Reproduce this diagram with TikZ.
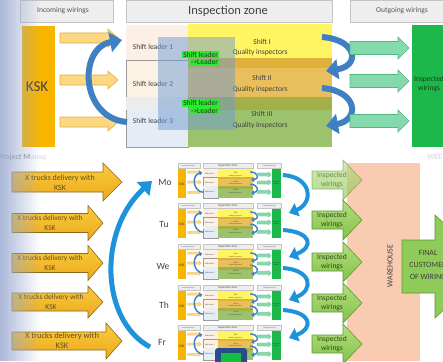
\documentclass[tikz,border=0pt]{standalone}
\usepackage{fontspec}
\setmainfont{Carlito}
\usetikzlibrary{arrows.meta}
\definecolor{hdrfill}{HTML}{EEEEEE}
\definecolor{hdrline}{HTML}{C4C4C4}
\definecolor{hdrtext}{HTML}{5C5252}
\definecolor{txtgray}{HTML}{404040}
\definecolor{ksk}{HTML}{F7B500}
\definecolor{yfill}{HTML}{FDD882}
\definecolor{yline}{HTML}{E0B040}
\definecolor{sla}{HTML}{FBEFE6}
\definecolor{slb}{HTML}{FCF2E4}
\definecolor{slc}{HTML}{E6ECF5}
\definecolor{slctop}{HTML}{ECECEE}
\definecolor{slline}{HTML}{9A9A9A}
\definecolor{banda}{HTML}{FFF462}
\definecolor{bandba}{HTML}{DFB13A}
\definecolor{bandbb}{HTML}{E9BF5C}
\definecolor{bandca}{HTML}{A5AF48}
\definecolor{bandcb}{HTML}{9DC26E}
\definecolor{blueA}{HTML}{3F7FC4}
\definecolor{gfill}{HTML}{84DAAC}
\definecolor{gline}{HTML}{52B882}
\definecolor{gbox}{HTML}{1DB84C}
\definecolor{gtext}{HTML}{1E3A1E}
\definecolor{ovblue}{HTML}{6E9BD3}
\definecolor{glabel}{HTML}{2EEA2E}
\definecolor{bluebright}{HTML}{1C93DB}
\definecolor{ytop}{HTML}{FCCB3E}
\definecolor{ybot}{HTML}{EBA91C}
\definecolor{yedge}{HTML}{8A6A1A}
\definecolor{ytext}{HTML}{5F4E22}
\definecolor{lgtop}{HTML}{B5DE7E}
\definecolor{lgbot}{HTML}{82C24A}
\definecolor{lgedge}{HTML}{5C9A30}
\definecolor{lgtext}{HTML}{2E4A1A}
\definecolor{warehouse}{HTML}{F9CCB2}
\definecolor{finalg}{HTML}{8FCB58}
\definecolor{navy}{HTML}{2A4A8A}
\definecolor{thumbgreen}{HTML}{10C040}
\definecolor{gradc}{HTML}{98A8D0}

\newcommand\lsc{1}
\newcommand\barrow[7]{\path[#1] (#2,{#5-#6}) -- (#3,{#5-#6}) -- (#3,{#5-#7}) -- (#4,#5) -- (#3,{#5+#7}) -- (#3,{#5+#6}) -- (#2,{#5+#6}) -- cycle;}

\tikzset{
  hdrbox/.style={fill=hdrfill, draw=hdrline, line width=\lsc*0.5pt},
  txt/.style={text=txtgray, inner sep=0pt, font=\fontsize{7.5}{9}\selectfont, align=center},
  yarrow/.style={fill=yfill, draw=yline, line width=\lsc*0.6pt},
  garrow/.style={fill=gfill, draw=gline, line width=\lsc*0.6pt},
  slbox/.style={draw=slline, line width=\lsc*0.5pt},
  curvearrow/.style={draw=blueA, line width=\lsc*6pt, -{Triangle[length=0pt 2, width=0pt 3.3]}},
  bigarrow/.style={draw=bluebright, line width=5pt, -{Triangle[length=0pt 2.4, width=0pt 3.6]}},
  sarrow/.style={draw=bluebright, line width=4pt, -{Triangle[length=0pt 2.2, width=0pt 3.4]}},
  truckarrow/.style={top color=ytop, bottom color=ybot, draw=yedge, line width=0.6pt},
  trucktxt/.style={text=ytext, inner sep=0pt, font=\fontsize{8}{10}\selectfont, align=center},
  inspArrow/.style={top color=lgtop, bottom color=lgbot, draw=lgedge, line width=0.6pt},
  insptxt/.style={text=lgtext, inner sep=0pt, font=\fontsize{7.5}{9.5}\selectfont, align=center},
  daytxt/.style={text=txtgray, inner sep=0pt, font=\fontsize{9.5}{11}\selectfont},
  greenlbl/.style={fill=glabel, text=gtext, inner sep=0.8pt, font=\fontsize{7.5}{8.5}\selectfont}
}

\newcommand\minislide[1]{%
  \path[hdrbox] (20,0) rectangle (113,22);
  \path[hdrbox] (126,0) rectangle (332,22);
  \path[hdrbox] (350,0) rectangle (450,22);
  \node[txt, text=hdrtext] (#1inc) at (63,11) {Incoming wirings};
  \node[txt, font=\fontsize{12.5}{14}\selectfont] (#1zone) at (228,11) {Inspection zone};
  \node[txt, text=hdrtext] (#1out) at (402,11) {Outgoing wirings};
  \fill[ksk] (22,26) rectangle (55,147);
  \node[txt, font=\fontsize{15}{17}\selectfont] (#1ksk) at (37,87) {KSK};
  \barrow{yarrow}{60}{108}{118}{38}{5}{9}
  \barrow{yarrow}{60}{108}{118}{80}{5}{9}
  \barrow{yarrow}{60}{108}{118}{122}{5}{9}
  \fill[sla] (126,25) rectangle (188,60);
  \path[slbox, fill=slb] (126,60) rectangle (188,97);
  \path[slbox, fill=slc] (126,97) rectangle (188,147);
  \fill[slctop] (126.4,97.4) rectangle (188,110);
  \fill[banda] (188,24) rectangle (332,58);
  \fill[bandba] (188,58) rectangle (332,68);
  \fill[bandbb] (188,68) rectangle (332,97);
  \fill[bandca] (188,97) rectangle (332,110);
  \fill[bandcb] (188,110) rectangle (332,147);
  \node[txt] (#1sl1) at (153,47) {Shift leader 1};
  \node[txt] (#1sl2) at (153,84) {Shift leader 2};
  \node[txt] (#1sl3) at (153,121) {Shift leader 3};
  \node[txt] (#1s1) at (262,42) {Shift I};
  \node[txt] (#1q1) at (260,52.5) {Quality inspectors};
  \node[txt] (#1s2) at (262,78) {Shift II};
  \node[txt] (#1q2) at (260,89) {Quality inspectors};
  \node[txt] (#1s3) at (262,114) {Shift III};
  \node[txt] (#1q3) at (260,125) {Quality inspectors};
  \draw[curvearrow] (127,122) .. controls (80,118) and (78,48) .. (122,40);
  \draw[curvearrow] (322,37) .. controls (358,40) and (360,66) .. (326,71);
  \draw[curvearrow] (322,88) .. controls (358,91) and (360,120) .. (326,126);
  \barrow{garrow}{350}{398}{409}{48}{6.5}{11}
  \barrow{garrow}{350}{398}{409}{81}{6.5}{11}
  \barrow{garrow}{350}{398}{409}{121}{6.5}{11}
  \fill[gbox] (412,25) rectangle (450,147);
  \node[txt, anchor=west, text=gtext] (#1insp) at (414,84) {Inspected\\wirings};
}

\begin{document}
\begin{tikzpicture}[x=1pt,y=-1pt]
\useasboundingbox (0,0) rectangle (443,361);
\clip (0,0) rectangle (443,361);
\fill[white] (0,0) rectangle (443,361);

% ---------- top slide ----------
\minislide{t}
\fill[ovblue, fill opacity=0.5] (158,37) rectangle (235,130);
\node[greenlbl, anchor=south east] (g1a) at (219,58.5) {Shift leader};
\node[greenlbl, anchor=north east] (g1b) at (219,58.5) {->Leader};
\node[greenlbl, anchor=south east] (g2a) at (219,107) {Shift leader};
\node[greenlbl, anchor=north east] (g2b) at (219,107) {->Leader};

% ---------- bottom ----------
\node[anchor=west, inner sep=0pt, font=\bfseries\fontsize{8}{9}\selectfont] (pm) at (-2,157) {\textcolor{gray!70}{Project M}\textcolor{gray!22}{anag}};
\node[anchor=west, inner sep=0pt, font=\bfseries\fontsize{8}{9}\selectfont, text=gray!25] (wee) at (427,157) {WEE};

% truck arrows
\barrow{truckarrow}{12}{103}{122}{182}{10}{19}
\barrow{truckarrow}{12}{88}{103}{223}{9.5}{17.5}
\barrow{truckarrow}{12}{88}{103}{263}{9.5}{17.5}
\barrow{truckarrow}{12}{88}{103}{302}{9}{16}
\barrow{truckarrow}{12}{106}{122}{341}{9}{18}
\node[trucktxt] (t1) at (60,182.5) {X trucks delivery with\\KSK};
\node[trucktxt, font=\fontsize{7.5}{9.5}\selectfont] (t2) at (50,223) {X trucks delivery with\\KSK};
\node[trucktxt, font=\fontsize{7.5}{9.5}\selectfont] (t3) at (50,263) {X trucks delivery with\\KSK};
\node[trucktxt, font=\fontsize{7.5}{9.5}\selectfont] (t4) at (51,302) {X trucks delivery with\\KSK};
\node[trucktxt, font=\fontsize{8.5}{10}\selectfont] (t5) at (62,341) {X trucks delivery with\\KSK};

% days
\node[daytxt] (mo) at (165,182) {Mo};
\node[daytxt] (tu) at (164,224) {Tu};
\node[daytxt] (we) at (163,266) {We};
\node[daytxt] (th) at (164,305) {Th};
\node[daytxt] (fr) at (162,342) {Fr};

% big arrow
\draw[bigarrow] (150,347) .. controls (100,320) and (98,230) .. (152,181);

% thumbnails
\foreach \ty/\nm in {163/a,203/b,244/c,285/d,325/e}{
  \begin{scope}[shift={(173,\ty)}, scale=0.24, transform shape]
    \renewcommand\lsc{0.24}
    \minislide{\nm}
  \end{scope}
}

% S arrows between thumbnails
\draw[sarrow] (283,175) .. controls (312,177) and (314,203) .. (289,213);
\draw[sarrow] (283,230) .. controls (312,232) and (314,247) .. (289,257);
\draw[sarrow] (283,268) .. controls (312,270) and (314,290) .. (289,300);
\draw[sarrow] (283,310) .. controls (312,312) and (314,328) .. (289,338);

% warehouse
\fill[warehouse] (347,163) rectangle (420,361);
\node[rotate=90, inner sep=0pt, text=txtgray, font=\fontsize{8}{9}\selectfont] (wh) at (390,266) {WAREHOUSE};

% inspected arrows
\begin{scope}[opacity=0.6]
\barrow{inspArrow}{312}{343}{362}{180}{9}{20}
\node[insptxt] (i1) at (332,180) {Inspected\\wirings};
\end{scope}
\barrow{inspArrow}{312}{343}{362}{220}{9}{20}
\barrow{inspArrow}{312}{343}{362}{262}{9}{20}
\barrow{inspArrow}{312}{343}{362}{303}{9}{20}
\barrow{inspArrow}{312}{343}{362}{344}{9}{20}
\node[insptxt] (i2) at (332,220) {Inspected\\wirings};
\node[insptxt] (i3) at (332,262) {Inspected\\wirings};
\node[insptxt] (i4) at (332,303) {Inspected\\wirings};
\node[insptxt] (i5) at (332,344) {Inspected\\wirings};

% final customer arrow
\path[fill=finalg, draw=lgedge, line width=0.6pt] (402,240) -- (435,240) -- (435,215) -- (490,266.5) -- (435,318) -- (435,293) -- (402,293) -- cycle;
\node[inner sep=0pt, align=center, text=txtgray, font=\fontsize{8}{12}\selectfont] (fc) at (428,265) {FINAL\\CUSTOMER\\OF WIRING};

% overlay on last thumbnail
\fill[navy, rounded corners=3pt] (215,348) rectangle (247,370);
\fill[thumbgreen] (221,353) rectangle (241,370);

% left gradient
\foreach \i in {0,...,19}{
  \pgfmathsetmacro\op{0.8*(1-\i/20)}
  \fill[gradc, fill opacity=\op] ({\i*2},0) rectangle ({\i*2+2},361);
}
\end{tikzpicture}
\end{document}
